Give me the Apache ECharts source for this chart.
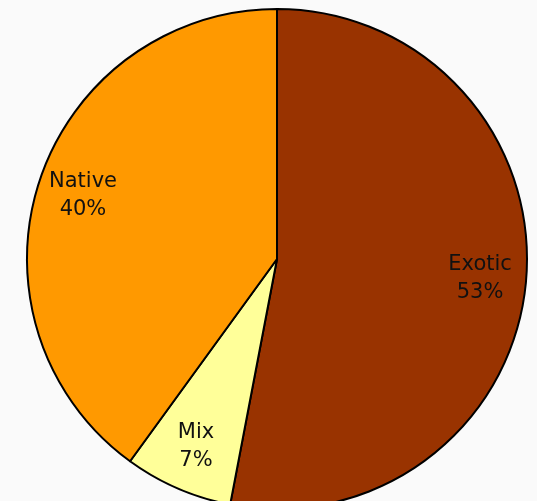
<!DOCTYPE html>
<html>
<head>
<meta charset="utf-8">
<script src="https://cdn.jsdelivr.net/npm/echarts@6/dist/echarts.min.js"></script>
<style>
html, body { margin: 0; padding: 0; background: #fafafa; }
#pie { width: 537px; height: 501px; }
</style>
</head>
<body>
<div id="pie"></div>
<script>
var categories = ['Exotic', 'Mix', 'Native'];
var shares = [53, 7, 40];
var colors = ['#993300', '#FFFF99', '#FF9900'];

window.onload = function() {
	var chart = echarts.init(document.getElementById('pie'));
	var pieData = categories.map(function(name, i) {
		return { name: name, value: shares[i], itemStyle: { color: colors[i] } };
	});
	// label ring: transparent copy so the text sits at ~0.8 of the radius
	var labelData = categories.map(function(name, i) {
		return { name: name, value: shares[i] };
	});
	var option = {
		backgroundColor: '#fafafa',
		animation: false,
		series: [{
				type: 'pie',
				center: [277, 259],
				radius: [0, 250],
				startAngle: 90,
				clockwise: true,
				itemStyle: {
					borderColor: '#000000',
					borderWidth: 2
				},
				label: { show: false },
				labelLine: { show: false },
				silent: true,
				data: pieData
			},
			{
				type: 'pie',
				center: [277, 259],
				radius: [152, 250],
				startAngle: 90,
				clockwise: true,
				silent: true,
				itemStyle: { color: 'transparent', borderWidth: 0 },
				label: {
					show: true,
					position: 'inside',
					formatter: '{b}\n{c}%',
					fontFamily: 'DejaVu Sans',
					fontSize: 21,
					lineHeight: 28,
					color: '#111111'
				},
				labelLine: { show: false },
				data: labelData
			}
		]
	};
	chart.setOption(option);
};
</script>
</body>
</html>
